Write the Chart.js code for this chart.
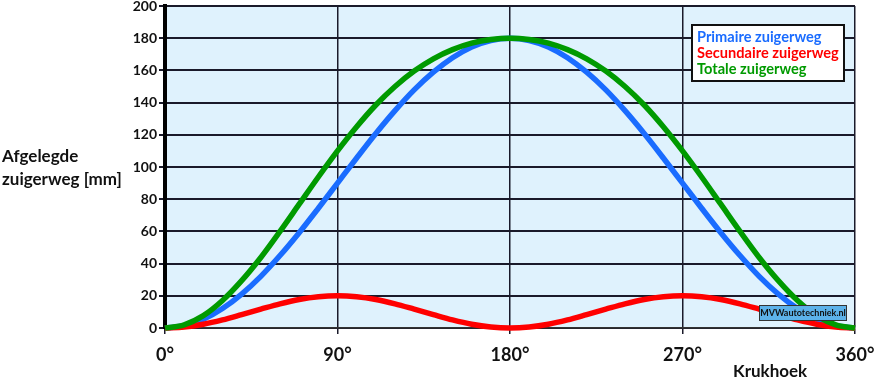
<!DOCTYPE html>
<html><head><meta charset="utf-8">
<script src="https://cdn.jsdelivr.net/npm/chart.js@4/dist/chart.umd.min.js"></script>
<style>html,body{margin:0;padding:0;background:#fff}#wrap{width:878px;height:383px}</style>
</head><body><div id="wrap"><canvas id="c" width="878" height="383"></canvas></div>
<script>
const angles = [0,10,20,30,40,50,60,70,80,90,100,110,120,130,140,150,160,170,180,190,200,210,220,230,240,250,260,270,280,290,300,310,320,330,340,350,360];
const primary = [0,1.4,5.4,12.1,21.1,32.1,45,59.2,74.4,90,105.6,120.8,135,147.9,158.9,167.9,174.6,178.6,180,178.6,174.6,167.9,158.9,147.9,135,120.8,105.6,90,74.4,59.2,45,32.1,21.1,12.1,5.4,1.4,0];
const secondary = [0,0.6,2.3,5,8.3,11.7,15,17.7,19.4,20,19.4,17.7,15,11.7,8.3,5,2.3,0.6,0,0.6,2.3,5,8.3,11.7,15,17.7,19.4,20,19.4,17.7,15,11.7,8.3,5,2.3,0.6,0];
const total = [0,2.0,7.7,17.1,29.4,43.8,60,76.9,93.8,110,125,138.5,150,159.6,167.2,172.9,176.9,179.2,180,179.2,176.9,172.9,167.2,159.6,150,138.5,125,110,93.8,76.9,60,43.8,29.4,17.1,7.7,2.0,0];
const seriesNames = ['Primaire zuigerweg','Secundaire zuigerweg','Totale zuigerweg'];
const xTicks = [0,90,180,270,360];
const yTicks = [0,20,40,60,80,100,120,140,160,180,200];

const FONT = 'Lato, "Open Sans", sans-serif';
const pts = a => a.map((v,i)=>({x:angles[i],y:v}));
const colors = ['#1a6cff','#ff0000','#009a00'];

const deco = {
  id:'deco',
  beforeDraw(chart){
    const {ctx, chartArea:a} = chart;
    ctx.save();
    ctx.fillStyle = '#dff2fd';
    ctx.fillRect(a.left, a.top, a.right-a.left, a.bottom-a.top);
    ctx.restore();
  },
  afterDraw(chart){
    const ctx = chart.ctx;
    ctx.save();
    ctx.fillStyle = '#111';
    ctx.font = 'bold 17px ' + FONT;
    ctx.textBaseline = 'middle';
    ctx.textAlign = 'left';
    ctx.fillText('Afgelegde', 2, 157);
    ctx.fillText('zuigerweg [mm]', 2, 180);
    ctx.fillText('Krukhoek', 733, 372);
    // legend box
    ctx.fillStyle = '#fff';
    ctx.fillRect(692, 25, 152, 56);
    ctx.strokeStyle = '#111';
    ctx.lineWidth = 2;
    ctx.strokeRect(692, 25, 152, 56);
    ctx.font = 'bold 14.6px ' + FONT;
    const ys = [37, 53, 69];
    for (let i=0;i<3;i++){ ctx.fillStyle = colors[i]; ctx.fillText(seriesNames[i], 697, ys[i]); }
    // watermark
    ctx.fillStyle = '#5cb2ea';
    ctx.fillRect(759, 305, 88, 16);
    ctx.strokeStyle = '#333';
    ctx.lineWidth = 1;
    ctx.strokeRect(759.5, 305.5, 87, 15);
    ctx.fillStyle = '#111';
    ctx.font = 'bold 9px ' + FONT;
    ctx.textAlign = 'center';
    ctx.fillText('MVWautotechniek.nl', 803, 313.5);
    ctx.restore();
  }
};

new Chart(document.getElementById('c'), {
  type:'line',
  data:{ datasets:[
    {label:seriesNames[0], data:pts(primary), borderColor:colors[0], order:2},
    {label:seriesNames[1], data:pts(secondary), borderColor:colors[1], order:1},
    {label:seriesNames[2], data:pts(total), borderColor:colors[2], order:0}
  ].map(d=>Object.assign(d,{borderWidth:5.5, pointRadius:0, fill:false, cubicInterpolationMode:'monotone', clip:false}))},
  options:{
    responsive:false, animation:false,
    layout:{padding:{left:0, right:23, top:6, bottom:0}},
    plugins:{legend:{display:false}, tooltip:{enabled:false}},
    scales:{
      x:{type:'linear', min:0, max:360,
        afterBuildTicks(s){ s.ticks = xTicks.map(v=>({value:v})); },
        afterFit(s){ s.height = 55; s.paddingLeft = 0; s.paddingRight = 0; },
        grid:{color:'#1a1a2a', lineWidth:1.5, tickLength:6, drawTicks:true},
        border:{color:'#333', width:1.5},
        ticks:{color:'#111', padding:10, font:{family:FONT, weight:'bold', size:18}, callback:v=>v+'°', maxRotation:0, autoSkip:false}
      },
      y:{min:0, max:200,
        afterBuildTicks(s){ s.ticks = yTicks.map(v=>({value:v})); },
        afterFit(s){ s.width = 165; s.paddingTop = 0; s.paddingBottom = 0; },
        grid:{color:'#1a1a2a', lineWidth:2, tickLength:6, drawTicks:true},
        border:{color:'#000', width:4},
        ticks:{color:'#111', padding:2, font:{family:FONT, weight:'bold', size:14}, autoSkip:false}
      }
    }
  },
  plugins:[deco]
});
</script></body></html>
